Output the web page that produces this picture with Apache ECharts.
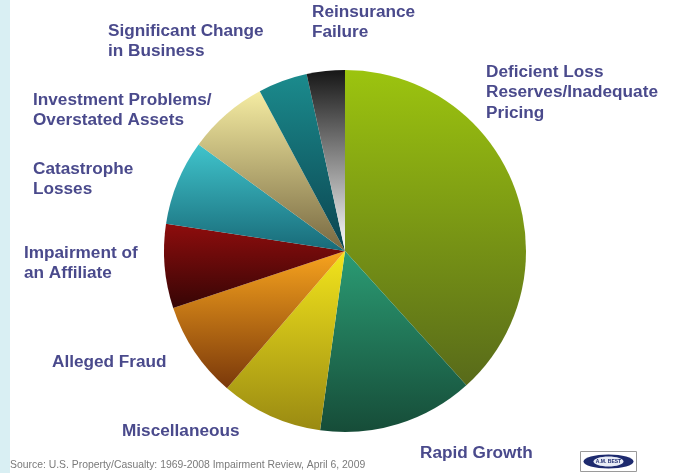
<!DOCTYPE html>
<html>
<head>
<meta charset="utf-8">
<script src="https://cdn.jsdelivr.net/npm/echarts@6/dist/echarts.min.js"></script>
<style>
  html, body { margin: 0; padding: 0; background: #ffffff; }
  #chart { width: 675px; height: 473px; }
</style>
</head>
<body>
<div id="chart"></div>
<script>
// Causes of impairment, share of cases (%), clockwise from 12 o'clock
const causes = [
  'Deficient Loss\nReserves/Inadequate\nPricing',
  'Rapid Growth',
  'Miscellaneous',
  'Alleged Fraud',
  'Impairment of\nan Affiliate',
  'Catastrophe\nLosses',
  'Investment Problems/\nOverstated Assets',
  'Significant Change\nin Business',
  'Reinsurance\nFailure'
];
const shares = [38.3, 13.9, 9.1, 8.6, 7.5, 7.6, 7.2, 4.4, 3.4];

// slice shading: light tone at the top, dark tone at the bottom
const topColors = ['#9cc40f', '#2b9c74', '#f3e51c', '#f8a41e', '#8e0d0d', '#40c4cc', '#f5eca2', '#1b8b8d', '#161616'];
const bottomColors = ['#586a1a', '#164c38', '#9a8a12', '#7a380a', '#360505', '#186a78', '#776841', '#0b4450', '#ffffff'];

// label anchor points (left, top) around the pie
const labelSpots = [
  [486, 62], [420, 443], [122, 421], [52, 352], [24, 243],
  [33, 159], [33, 90], [108, 21], [312, 2]
];

const chart = echarts.init(document.getElementById('chart'));

const data = causes.map((name, i) => ({
  name: name,
  value: shares[i],
  itemStyle: {
    color: new echarts.graphic.LinearGradient(0, 0, 0, 1, [
      { offset: 0, color: topColors[i] },
      { offset: 1, color: bottomColors[i] }
    ])
  }
}));

chart.setOption({
  backgroundColor: '#ffffff',
  animation: false,
  graphic: [
    { type: 'rect', left: 0, top: 0, shape: { width: 10, height: 473 }, style: { fill: '#d9eff3' } },
    {
      type: 'text', left: 10, top: 460,
      style: {
        text: 'Source: U.S. Property/Casualty: 1969-2008 Impairment Review, April 6, 2009',
        fill: '#7a7a7a', font: '10.4px "Liberation Sans", Arial, sans-serif'
      }
    },
    {
      type: 'group', left: 580, top: 451,
      children: [
        { type: 'rect', shape: { x: 0, y: 0, width: 56, height: 20 }, style: { fill: '#ffffff', stroke: '#9a9a9a', lineWidth: 1 } },
        { type: 'ellipse', shape: { cx: 28, cy: 10, rx: 25, ry: 7 }, style: { fill: '#1d2a6e' } },
        { type: 'ellipse', shape: { cx: 28, cy: 10, rx: 15, ry: 5 }, style: { fill: '#e8ecf6' } },
        {
          type: 'text', x: 28, y: 10,
          style: { text: 'A.M. BEST', fill: '#1d2a6e', font: 'bold 5px "Liberation Sans", Arial, sans-serif', align: 'center', verticalAlign: 'middle' }
        }
      ]
    }
  ],
  series: [{
    type: 'pie',
    center: [345, 251],
    radius: [0, 181],
    startAngle: 90,
    clockwise: true,
    avoidLabelOverlap: false,
    data: data,
    itemStyle: { borderWidth: 0 },
    emphasis: { disabled: true },
    label: {
      show: true,
      position: 'outside',
      formatter: '{b}',
      color: '#4a4a8c',
      fontFamily: '"Liberation Sans", Arial, sans-serif',
      fontWeight: 'bold',
      fontSize: 17.2,
      lineHeight: 20.5,
      align: 'left'
    },
    labelLine: { show: false },
    labelLayout: function (params) {
      const p = labelSpots[params.dataIndex];
      return { x: p[0], y: p[1], align: 'left', verticalAlign: 'top', hideOverlap: false };
    }
  }]
});
</script>
</body>
</html>
